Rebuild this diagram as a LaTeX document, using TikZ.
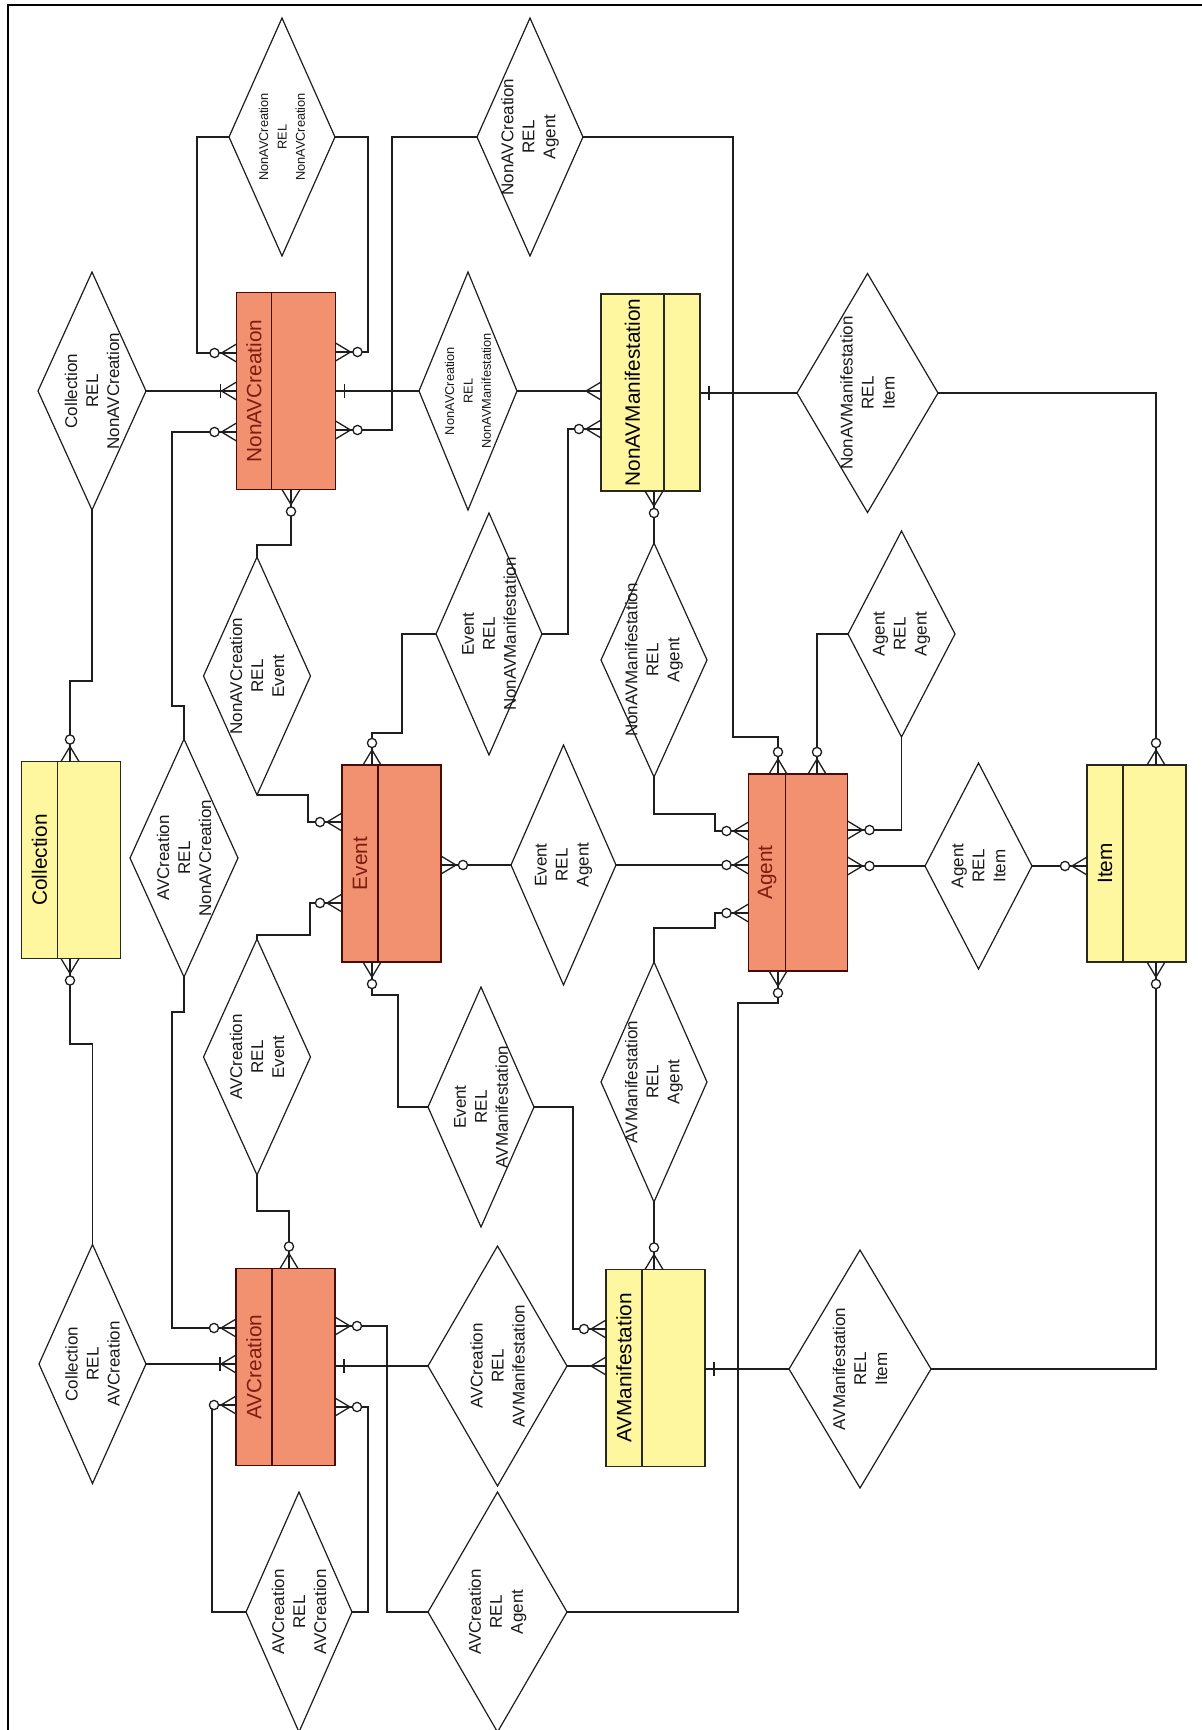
\documentclass[tikz,border=0pt]{standalone}
\usepackage{fontspec}
\setmainfont{Liberation Sans}
\usetikzlibrary{shapes.geometric}
\definecolor{salfill}{RGB}{242,145,112}
\definecolor{salline}{RGB}{70,12,10}
\definecolor{saltext}{RGB}{125,28,16}
\definecolor{yelfill}{RGB}{255,246,160}
\definecolor{yelline}{RGB}{40,40,30}
\definecolor{linegray}{RGB}{30,30,30}
\tikzset{
  conn/.style={draw=linegray,line width=0.65pt},
  entbox/.style={line width=0.8pt,minimum width=49.5pt,minimum height=98.5pt,inner sep=0pt,outer sep=0pt},
  salent/.style={entbox,draw=salline,fill=salfill},
  yelent/.style={entbox,draw=yelline,fill=yelfill},
  divsal/.style={draw=salline,line width=0.8pt},
  divyel/.style={draw=yelline,line width=0.8pt},
  entlab/.style={rotate=90,inner sep=0pt,font=\fontsize{10.4}{12}\selectfont},
  rel/.style={shape=diamond,draw=linegray,line width=0.6pt,fill=white,inner sep=0pt,outer sep=0pt},
  reltxt/.style={rotate=90,inner sep=0pt,align=center,text=black!90,font=\fontsize{8.5}{10.5}\selectfont},
  reltxtsmall/.style={reltxt,font=\fontsize{6.4}{9.2}\selectfont},
  erzm/.pic={\draw[conn] (0,9) -- (15,0) -- (0,-9);
             \draw[conn,fill=white] (22,0) circle[radius=2.3pt];},
  erom/.pic={\draw[conn] (0,9) -- (15,0) -- (0,-9);
             \draw[conn] (16,-7) -- (16,7);},
  ermany/.pic={\draw[conn] (0,9) -- (15,0) -- (0,-9);},
  erone/.pic={\draw[conn] (9,-7) -- (9,7);}
}
\begin{document}
\begin{tikzpicture}[x=0.5pt,y=-0.5pt]
\useasboundingbox (0,0) rectangle (1202,1730);
\fill[white] (0,0) rectangle (1202,1730);
\draw[line width=1.3pt,black] (8,1730) -- (8,5) -- (1202,5);

% ---------- entities ----------
\node[salent] (ncr) at (286,391) {};
\draw[divsal] ([xshift=17.5pt]ncr.north west) -- ([xshift=17.5pt]ncr.south west);
\node[entlab,text=saltext] (ncrl) at ([xshift=8.75pt]ncr.west) {NonAVCreation};

\node[yelent] (nman) at (650.5,392.5) {};
\draw[divyel] ([xshift=31.5pt]nman.north west) -- ([xshift=31.5pt]nman.south west);
\node[entlab,text=black] (nmanl) at ([xshift=15.75pt]nman.west) {NonAVManifestation};

\node[yelent] (col) at (71,860) {};
\draw[divyel] ([xshift=18pt]col.north west) -- ([xshift=18pt]col.south west);
\node[entlab,text=black] (coll) at ([xshift=9pt]col.west) {Collection};

\node[salent] (evt) at (391.5,863.5) {};
\draw[divsal] ([xshift=18pt]evt.north west) -- ([xshift=18pt]evt.south west);
\node[entlab,text=saltext] (evtl) at ([xshift=9pt]evt.west) {Event};

\node[salent] (agt) at (798,872.5) {};
\draw[divsal] ([xshift=18.5pt]agt.north west) -- ([xshift=18.5pt]agt.south west);
\node[entlab,text=saltext] (agtl) at ([xshift=9.25pt]agt.west) {Agent};

\node[yelent] (itm) at (1136.5,863.5) {};
\draw[divyel] ([xshift=18pt]itm.north west) -- ([xshift=18pt]itm.south west);
\node[entlab,text=black] (itml) at ([xshift=9pt]itm.west) {Item};

\node[salent] (avc) at (285.5,1367) {};
\draw[divsal] ([xshift=18pt]avc.north west) -- ([xshift=18pt]avc.south west);
\node[entlab,text=saltext] (avcl) at ([xshift=9pt]avc.west) {AVCreation};

\node[yelent] (avm) at (655.5,1368) {};
\draw[divyel] ([xshift=18pt]avm.north west) -- ([xshift=18pt]avm.south west);
\node[entlab,text=black] (avml) at ([xshift=9pt]avm.west) {AVManifestation};

% ---------- relationships ----------
\node[rel,minimum width=54pt,minimum height=119pt] (d1) at (92,391) {};
\node[reltxt] (d1t) at (d1) {Collection\\REL\\NonAVCreation};
\node[rel,minimum width=53pt,minimum height=119pt] (d2) at (282,137) {};
\node[reltxtsmall] (d2t) at (d2) {NonAVCreation\\REL\\NonAVCreation};
\node[rel,minimum width=53pt,minimum height=119pt] (d3) at (530,137) {};
\node[reltxt] (d3t) at (d3) {NonAVCreation\\REL\\Agent};
\node[rel,minimum width=49pt,minimum height=119pt] (d4) at (468,391) {};
\node[reltxtsmall] (d4t) at (d4) {NonAVCreation\\REL\\NonAVManifestation};
\node[rel,minimum width=70.5pt,minimum height=119.5pt] (d5) at (867.5,393) {};
\node[reltxt] (d5t) at (d5) {NonAVManifestation\\REL\\Item};
\node[rel,minimum width=54pt,minimum height=119pt] (d6) at (184,858) {};
\node[reltxt] (d6t) at (d6) {AVCreation\\REL\\NonAVCreation};
\node[rel,minimum width=53.5pt,minimum height=119pt] (d7) at (257,676) {};
\node[reltxt] (d7t) at (d7) {NonAVCreation\\REL\\Event};
\node[rel,minimum width=53pt,minimum height=121pt] (d8) at (489,634) {};
\node[reltxt] (d8t) at (d8) {Event\\REL\\NonAVManifestation};
\node[rel,minimum width=53pt,minimum height=117pt] (d9) at (654,660) {};
\node[reltxt] (d9t) at (d9) {NonAVManifestation\\REL\\Agent};
\node[rel,minimum width=53.5pt,minimum height=103pt] (d10) at (901.5,634) {};
\node[reltxt] (d10t) at (d10) {Agent\\REL\\Agent};
\node[rel,minimum width=52.5pt,minimum height=120pt] (d11) at (563.5,865) {};
\node[reltxt] (d11t) at (d11) {Event\\REL\\Agent};
\node[rel,minimum width=53.5pt,minimum height=103pt] (d12) at (978.5,866) {};
\node[reltxt] (d12t) at (d12) {Agent\\REL\\Item};
\node[rel,minimum width=53.5pt,minimum height=118pt] (d13) at (257,1057) {};
\node[reltxt] (d13t) at (d13) {AVCreation\\REL\\Event};
\node[rel,minimum width=53pt,minimum height=120pt] (d14) at (481,1107) {};
\node[reltxt] (d14t) at (d14) {Event\\REL\\AVManifestation};
\node[rel,minimum width=53pt,minimum height=120pt] (d15) at (654,1082) {};
\node[reltxt] (d15t) at (d15) {AVManifestation\\REL\\Agent};
\node[rel,minimum width=53.5pt,minimum height=119.5pt] (d16) at (92.5,1364) {};
\node[reltxt] (d16t) at (d16) {Collection\\REL\\AVCreation};
\node[rel,minimum width=69.5pt,minimum height=120pt] (d17) at (497.5,1366) {};
\node[reltxt] (d17t) at (d17) {AVCreation\\REL\\AVManifestation};
\node[rel,minimum width=71pt,minimum height=119pt] (d18) at (860,1369) {};
\node[reltxt] (d18t) at (d18) {AVManifestation\\REL\\Item};
\node[rel,minimum width=53pt,minimum height=120pt] (d19) at (299,1612) {};
\node[reltxt] (d19t) at (d19) {AVCreation\\REL\\AVCreation};
\node[rel,minimum width=69.5pt,minimum height=120pt] (d20) at (497.5,1612) {};
\node[reltxt] (d20t) at (d20) {AVCreation\\REL\\Agent};

% ---------- connectors ----------
\draw[conn] (d1.east) -- (ncr.west |- d1.east);
\draw[conn] (d2.west) -- (197,137) -- (197,353) -- (ncr.west |- 0,353);
\draw[conn] (d2.east) -- (368,137) -- (368,352) -- (ncr.east |- 0,352);
\draw[conn] (ncr.east |- d4.west) -- (d4.west);
\draw[conn] (d4.east) -- (nman.west |- d4.east);
\draw[conn] (ncr.east |- 0,430) -- (392,430) -- (392,137) -- (d3.west);
\draw[conn] (d3.east) -- (733,137) -- (733,737) -- (778,737) -- (agt.north -| 778,0);
\draw[conn] (ncr.west |- 0,432) -- (172,432) -- (172,706) -- (184,706) -- (d6.north);
\draw[conn] (d6.south) -- (184,1012) -- (172,1012) -- (172,1328) -- (avc.west |- 0,1328);
\draw[conn] (ncr.south -| 291,0) -- (291,545) -- (257,545) -- (d7.north);
\draw[conn] (d7.south) -- (308,795) -- (308,822) -- (evt.west |- 0,822);
\draw[conn] (evt.west |- 0,903) -- (310,903) -- (310,935) -- (257,935) -- (d13.north);
\draw[conn] (evt.north -| 372,0) -- (372,733) -- (402,733) -- (402,634) -- (d8.west);
\draw[conn] (d8.east) -- (568,634) -- (568,429) -- (nman.west |- 0,429);
\draw[conn] (nman.south -| d9.north) -- (d9.north);
\draw[conn] (d9.south) -- (654,814) -- (715,814) -- (715,831) -- (agt.west |- 0,831);
\draw[conn] (nman.east |- d5.west) -- (d5.west);
\draw[conn] (d5.east) -- (1156,393) -- (itm.north -| 1156,0);
\draw[conn] (evt.east |- d11.west) -- (d11.west);
\draw[conn] (d11.east) -- (agt.west |- d11.east);
\draw[conn] (d10.west) -- (817,634) -- (agt.north -| 817,0);
\draw[conn] (d10.south) -- (901.5,830) -- (agt.east |- 0,830);
\draw[conn] (agt.east |- d12.west) -- (d12.west);
\draw[conn] (d12.east) -- (itm.west |- d12.east);
\draw[conn] (agt.west |- 0,913) -- (715,913) -- (715,928) -- (654,928) -- (d15.north);
\draw[conn] (agt.south -| 778,0) -- (778,1003) -- (738,1003) -- (738,1612) -- (d20.east);
\draw[conn] (col.north -| 70,0) -- (70,681) -- (92,681) -- (d1.south);
\draw[conn] (col.south -| 70,0) -- (70,1044) -- (92.5,1044) -- (d16.north);
\draw[conn] (d16.east) -- (avc.west |- d16.east);
\draw[conn] (evt.south -| 372,0) -- (372,995) -- (398,995) -- (398,1107) -- (d14.west);
\draw[conn] (d14.east) -- (573,1107) -- (573,1329) -- (avm.west |- 0,1329);
\draw[conn] (d15.south) -- (avm.north -| d15.south);
\draw[conn] (d13.south) -- (257,1211) -- (289,1211) -- (avc.north -| 289,0);
\draw[conn] (avc.east |- d17.west) -- (d17.west);
\draw[conn] (d17.east) -- (avm.west |- d17.east);
\draw[conn] (avm.east |- d18.west) -- (d18.west);
\draw[conn] (d18.east) -- (1156,1369) -- (itm.south -| 1156,0);
\draw[conn] (avc.east |- 0,1326) -- (387,1326) -- (387,1612) -- (d20.west);
\draw[conn] (avc.east |- 0,1407) -- (368,1407) -- (368,1612) -- (d19.east);
\draw[conn] (d19.west) -- (212,1612) -- (212,1405) -- (avc.west |- 0,1405);

% ---------- cardinality marks ----------
\pic[rotate=180] at (ncr.west |- d1.east) {erom};
\pic[rotate=180] at (ncr.west |- 0,353) {erzm};
\pic at (ncr.east |- 0,352) {erzm};
\pic at (ncr.east |- d4.west) {erone};
\pic[rotate=180] at (nman.west |- d4.east) {ermany};
\pic at (ncr.east |- 0,430) {erzm};
\pic[rotate=90] at (agt.north -| 778,0) {erzm};
\pic[rotate=180] at (ncr.west |- 0,432) {erzm};
\pic[rotate=180] at (avc.west |- 0,1328) {erzm};
\pic[rotate=-90] at (ncr.south -| 291,0) {erzm};
\pic[rotate=180] at (evt.west |- 0,822) {erzm};
\pic[rotate=180] at (evt.west |- 0,903) {erzm};
\pic[rotate=90] at (evt.north -| 372,0) {erzm};
\pic[rotate=180] at (nman.west |- 0,429) {erzm};
\pic[rotate=-90] at (nman.south -| d9.north) {erzm};
\pic[rotate=180] at (agt.west |- 0,831) {erzm};
\pic at (nman.east |- d5.west) {erone};
\pic[rotate=90] at (itm.north -| 1156,0) {erzm};
\pic at (evt.east |- d11.west) {erzm};
\pic[rotate=180] at (agt.west |- d11.east) {erzm};
\pic[rotate=90] at (agt.north -| 817,0) {erzm};
\pic at (agt.east |- 0,830) {erzm};
\pic at (agt.east |- d12.west) {erzm};
\pic[rotate=180] at (itm.west |- d12.east) {erzm};
\pic[rotate=180] at (agt.west |- 0,913) {erzm};
\pic[rotate=-90] at (agt.south -| 778,0) {erzm};
\pic[rotate=90] at (col.north -| 70,0) {erzm};
\pic[rotate=-90] at (col.south -| 70,0) {erzm};
\pic[rotate=180] at (avc.west |- d16.east) {erom};
\pic[rotate=-90] at (evt.south -| 372,0) {erzm};
\pic[rotate=180] at (avm.west |- 0,1329) {erzm};
\pic[rotate=90] at (avm.north -| d15.south) {erzm};
\pic[rotate=90] at (avc.north -| 289,0) {erzm};
\pic at (avc.east |- d17.west) {erone};
\pic[rotate=180] at (avm.west |- d17.east) {ermany};
\pic at (avm.east |- d18.west) {erone};
\pic[rotate=-90] at (itm.south -| 1156,0) {erzm};
\pic at (avc.east |- 0,1326) {erzm};
\pic at (avc.east |- 0,1407) {erzm};
\pic[rotate=180] at (avc.west |- 0,1405) {erzm};
\end{tikzpicture}
\end{document}
